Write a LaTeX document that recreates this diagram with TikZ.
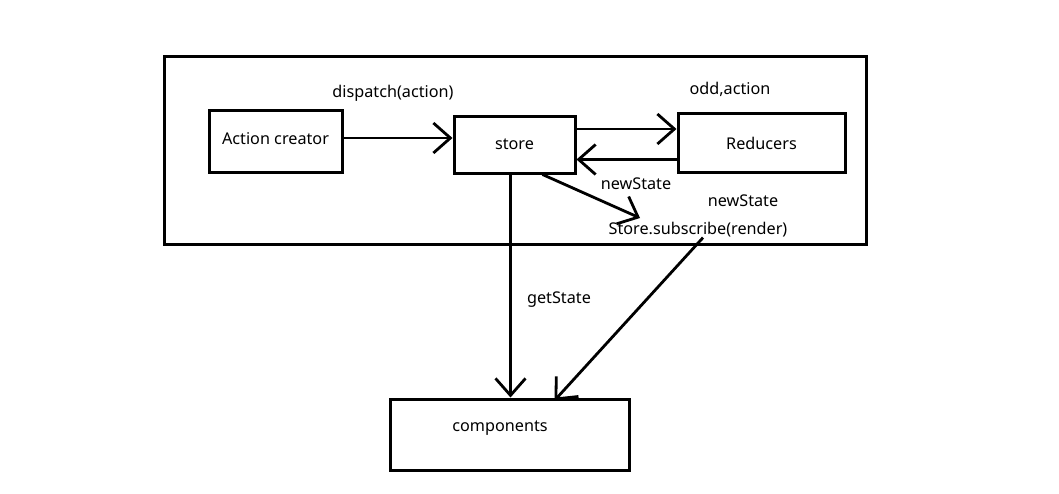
\documentclass[tikz,border=0pt]{standalone}
\usepackage{fontspec}
\setmainfont{Noto Sans}
\usetikzlibrary{arrows.meta}
\begin{document}
\begin{tikzpicture}[x=1pt,y=-1pt,
  box/.style={draw,line width=3pt,rectangle,inner sep=0pt},
  txt/.style={font=\fontsize{16.2}{19}\selectfont},
  lbl/.style={inner sep=0pt,txt},
  arr/.style={line width=2.8pt,-{Straight Barb[length=17pt,width=30pt,line width=2.8pt]}}]
  % canvas
  \fill[white] (0,0) rectangle (1059,493);
  \useasboundingbox (0,0) rectangle (1059,493);
  % outer frame
  \node[box,minimum width=702pt,minimum height=188pt] (frame) at (515,150) {};
  % boxes
  \node[box,minimum width=133pt,minimum height=62pt] (ac) at (275.5,141) {};
  \node[lbl] at (275.5,139) {Action creator};
  \node[box,minimum width=121pt,minimum height=57pt,txt] (store) at (514.5,144.5) {store};
  \node[box,minimum width=167pt,minimum height=59pt,txt] (red) at (761.5,143) {Reducers};
  \node[box,minimum width=239pt,minimum height=71pt] (comp) at (509.5,434.5) {};
  \node[lbl] at (500,428) {components};
  \node[lbl] (sub) at (698,230) {Store.subscribe(render)};
  % labels
  \node[lbl] at (393,93) {dispatch(action)};
  \node[lbl] at (730,89) {odd,action};
  \node[lbl] at (636,184) {newState};
  \node[lbl] at (743,201) {newState};
  \node[lbl] at (559,300) {getState};
  % connectors
  \draw[arr] ([yshift=3pt]ac.east) -- ([yshift=3pt]ac.east -| store.west);
  \draw[arr] ([yshift=15.5pt]store.east) -- ([yshift=15.5pt]store.east -| red.west);
  \draw[arr] ([yshift=-16.5pt]red.west) -- ([yshift=-16.5pt]red.west -| store.east);
  \draw[arr] ([xshift=-34pt]store.south east) -- (640,218);
  \draw[arr] ([xshift=-4pt]store.south) -- ([xshift=-4pt]store.south |- comp.north);
  \draw[arr] ([xshift=5pt]sub.south) -- ([xshift=45pt,yshift=-3pt]comp.north);
\end{tikzpicture}
\end{document}
